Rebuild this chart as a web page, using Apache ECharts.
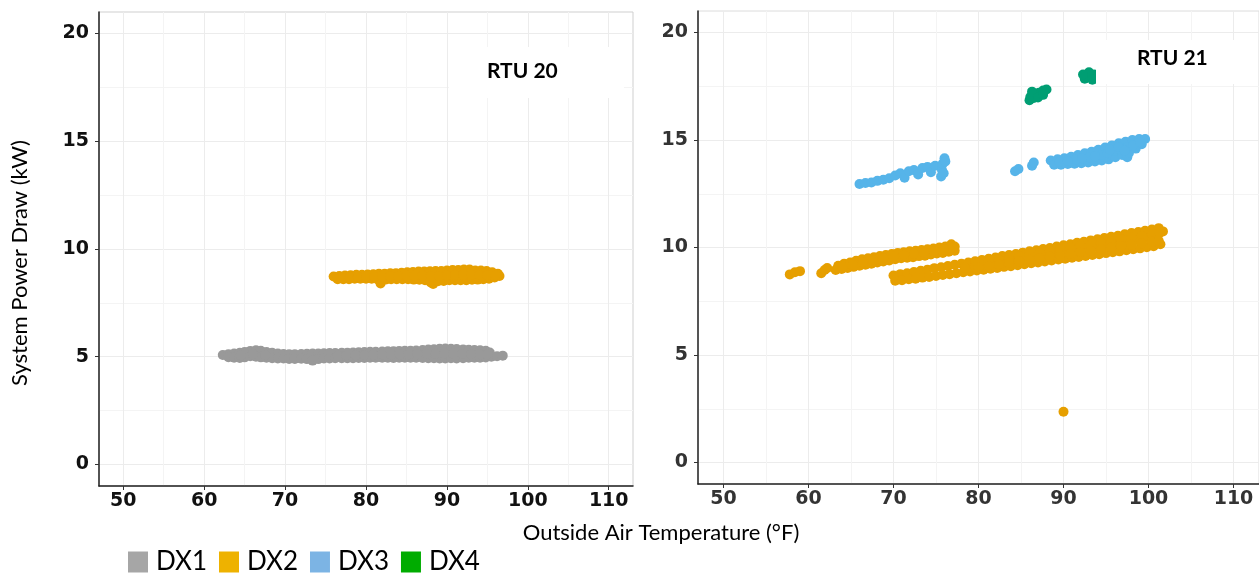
<!DOCTYPE html>
<html>
<head>
<meta charset="utf-8">
<script src="https://cdn.jsdelivr.net/npm/echarts@6/dist/echarts.min.js"></script>
<style>
  html, body { margin: 0; padding: 0; background: #fff; }
  #chart { width: 1259px; height: 576px; }
</style>
</head>
<body>
<div id="chart"></div>
<script>
// axis ticks
const xTicks = [50, 60, 70, 80, 90, 100, 110];
const xMinor = [55, 65, 75, 85, 95, 105];
const yTicks = [0, 5, 10, 15, 20];
const yMinor = [2.5, 7.5, 12.5, 17.5];
const seriesNames = ['DX1', 'DX2', 'DX3', 'DX4'];

// RTU 20 : outside air temp (F), power (kW)
const rtu20Dx1 = [
  [62.3,5.08],[63.0,5.12],[63.7,5.15],[64.4,5.18],[65.0,5.22],[65.7,5.27],[66.4,5.30],[67.0,5.28],[67.7,5.22],[68.4,5.18],
  [69.1,5.15],[69.8,5.13],[70.5,5.12],[71.2,5.12],[72.0,5.13],[72.7,5.14],[73.4,5.15],[74.1,5.15],[74.8,5.16],[75.5,5.17],
  [76.2,5.17],[77.0,5.18],[77.7,5.19],[78.4,5.20],[79.1,5.21],[79.8,5.22],[80.5,5.23],[81.2,5.23],[82.0,5.24],[82.7,5.25],
  [83.4,5.26],[84.1,5.27],[84.8,5.28],[85.5,5.28],[86.2,5.29],[87.0,5.31],[87.7,5.33],[88.4,5.35],[89.1,5.37],[89.8,5.38],
  [90.5,5.37],[91.2,5.36],[92.0,5.34],[92.7,5.32],[93.4,5.31],[94.1,5.30],[94.8,5.28],[95.3,5.20],
  [63.0,4.98],[63.7,4.95],[64.4,4.94],[65.0,4.97],[65.7,5.02],[66.4,5.00],[67.0,4.97],[67.7,4.95],[68.4,4.93],[69.1,4.92],
  [69.8,4.92],[70.5,4.90],[71.2,4.90],[72.0,4.91],[72.7,4.89],[73.4,4.82],[74.1,4.89],[74.8,4.92],[75.5,4.92],[76.2,4.93],
  [77.0,4.93],[77.7,4.93],[78.4,4.93],[79.1,4.94],[79.8,4.94],[80.5,4.95],[81.2,4.95],[82.0,4.95],[82.7,4.95],[83.4,4.94],
  [84.1,4.95],[84.8,4.95],[85.5,4.95],[86.2,4.95],[87.0,4.94],[87.7,4.93],[88.4,4.93],[89.1,4.92],[89.8,4.92],[90.5,4.93],
  [91.2,4.92],[92.0,4.93],[92.7,4.95],[93.4,4.95],[94.1,4.95],[94.8,4.96],[95.5,5.00],[96.2,5.02],[96.9,5.05],
  [64.5,5.07],[66.0,5.12],[67.5,5.08],[76.5,5.05],[77.6,5.06],[78.7,5.07],[79.8,5.08],[80.9,5.09],[82.0,5.10],[83.1,5.10],
  [84.2,5.11],[85.3,5.11],[86.4,5.12],[87.5,5.13],[88.6,5.14],[89.7,5.15],[90.8,5.14],[91.9,5.13],[93.0,5.13],[94.1,5.12],
  [95.0,5.10]
];
const rtu20Dx2 = [
  [76.0,8.72],[76.7,8.75],[77.4,8.77],[78.1,8.78],[78.8,8.80],[79.5,8.80],[80.2,8.82],[80.9,8.83],[81.6,8.85],[82.3,8.85],
  [83.0,8.87],[83.7,8.88],[84.4,8.90],[85.1,8.92],[85.8,8.93],[86.5,8.95],[87.2,8.95],[87.9,8.97],[88.6,8.98],[89.3,8.98],
  [90.0,9.00],[90.7,9.02],[91.4,9.03],[92.1,9.05],[92.8,9.05],[93.5,9.00],[94.2,9.00],[94.9,8.98],[95.6,8.92],[96.3,8.85],
  [76.5,8.60],[77.2,8.60],[77.9,8.60],[78.6,8.62],[79.3,8.62],[80.0,8.62],[80.7,8.62],[81.4,8.60],[81.8,8.40],[82.4,8.58],
  [83.1,8.60],[83.8,8.60],[84.5,8.60],[85.2,8.60],[85.9,8.58],[86.6,8.57],[87.3,8.55],[88.0,8.45],[88.3,8.38],[88.9,8.50],
  [89.6,8.52],[90.3,8.55],[91.0,8.55],[91.7,8.55],[92.4,8.55],[93.1,8.57],[93.8,8.58],[94.5,8.60],[95.2,8.62],[95.9,8.68],
  [96.5,8.75],
  [77.0,8.68],[78.0,8.69],[79.0,8.71],[80.0,8.72],[81.0,8.73],[82.0,8.73],[83.0,8.74],[84.0,8.75],[85.0,8.76],[86.0,8.76],
  [87.0,8.76],[88.0,8.74],[89.0,8.75],[90.0,8.77],[91.0,8.79],[92.0,8.80],[93.0,8.80],[94.0,8.79],[95.0,8.78],[96.0,8.77]
];

// RTU 21
const rtu21Dx2 = [
  [57.8,8.75],[58.4,8.85],[59.0,8.90],[61.5,8.80],[61.9,8.95],[62.2,9.05],
  [63.5,9.15],[64.2,9.25],[64.9,9.30],[65.6,9.38],[66.3,9.45],[67.0,9.50],[67.7,9.55],[68.4,9.60],[69.1,9.65],[69.8,9.70],
  [70.5,9.75],[71.2,9.78],[71.9,9.82],[72.6,9.85],[73.3,9.88],[74.0,9.92],[74.7,9.95],[75.4,10.00],[76.1,10.05],[76.8,10.15],
  [77.2,10.05],
  [63.2,8.95],[63.9,9.00],[64.6,9.05],[65.3,9.10],[66.0,9.15],[66.7,9.20],[67.4,9.25],[68.1,9.30],[68.8,9.35],[69.5,9.40],
  [70.2,9.45],[70.9,9.50],[71.6,9.52],[72.3,9.55],[73.0,9.60],[73.7,9.62],[74.4,9.68],[75.1,9.72],[75.8,9.75],[76.5,9.80],
  [77.2,9.85],
  [64.0,9.10],[65.2,9.20],[66.4,9.30],[67.6,9.40],[68.8,9.50],[70.0,9.58],[71.2,9.65],[72.4,9.70],[73.6,9.76],[74.8,9.83],
  [76.0,9.90],[77.0,9.98],
  [70.0,8.70],[70.8,8.76],[71.6,8.80],[72.4,8.86],[73.2,8.92],[74.0,8.97],[74.8,9.04],[75.6,9.08],[76.4,9.14],[77.2,9.20],
  [78.0,9.25],[78.8,9.30],[79.6,9.36],[80.4,9.42],[81.2,9.48],[82.0,9.53],[82.8,9.60],[83.6,9.65],[84.4,9.70],[85.2,9.76],
  [86.0,9.82],[86.8,9.87],[87.6,9.93],[88.4,9.98],[89.2,10.05],[90.0,10.10],[90.8,10.15],[91.6,10.22],[92.4,10.27],[93.2,10.33],
  [94.0,10.38],[94.8,10.44],[95.6,10.50],[96.4,10.55],[97.2,10.62],[98.0,10.67],[98.8,10.72],[99.6,10.78],[100.4,10.84],[101.2,10.90],
  [101.7,10.75],
  [70.2,8.45],[71.0,8.48],[71.8,8.52],[72.6,8.55],[73.4,8.60],[74.2,8.63],[75.0,8.68],[75.8,8.72],[76.6,8.76],[77.4,8.80],
  [78.2,8.85],[79.0,8.88],[79.8,8.93],[80.6,8.97],[81.4,9.01],[82.2,9.05],[83.0,9.10],[83.8,9.13],[84.6,9.18],[85.4,9.22],
  [86.2,9.27],[87.0,9.30],[87.8,9.35],[88.6,9.40],[89.4,9.44],[90.2,9.48],[91.0,9.52],[91.8,9.56],[92.6,9.61],[93.4,9.65],
  [94.2,9.69],[95.0,9.74],[95.8,9.78],[96.6,9.82],[97.4,9.87],[98.2,9.92],[99.0,9.96],[99.8,10.01],[100.6,10.06],[101.4,10.15],
  [78.4,9.05],[79.6,9.13],[80.8,9.20],[82.0,9.28],[83.2,9.36],[84.4,9.44],[85.6,9.50],[86.8,9.58],[88.0,9.66],[89.2,9.74],
  [90.4,9.82],[91.6,9.90],[92.8,9.97],[94.0,10.04],[95.2,10.10],[96.4,10.18],[97.6,10.26],[98.8,10.33],[100.0,10.42],[101.0,10.50],
  [80.0,9.27],[81.2,9.35],[82.4,9.43],[83.6,9.51],[84.8,9.59],[86.0,9.67],[87.2,9.75],[88.4,9.83],[89.6,9.91],[90.8,9.99],
  [92.0,10.07],[93.2,10.14],[94.4,10.22],[95.6,10.30],[96.8,10.38],[98.0,10.46],[99.2,10.54],[100.4,10.62],[101.3,10.68],
  [80.0,9.07],[81.2,9.14],[82.4,9.21],[83.6,9.29],[84.8,9.36],[86.0,9.43],[87.2,9.50],[88.4,9.57],[89.6,9.64],[90.8,9.71],
  [92.0,9.78],[93.2,9.85],[94.4,9.92],[95.6,9.99],[96.8,10.06],[98.0,10.13],[99.2,10.20],[100.4,10.27],[101.2,10.31],
  [90.0,2.36]
];
const rtu21Dx3 = [
  [66.0,12.95],[66.7,13.00],[67.4,13.02],[68.1,13.10],[68.8,13.15],[69.5,13.22],[70.2,13.35],[70.8,13.45],[71.3,13.25],[71.8,13.55],
  [72.4,13.60],[72.9,13.40],[73.4,13.70],[74.0,13.75],[74.4,13.50],[74.9,13.80],[75.6,13.30],[75.7,13.60],[75.8,13.90],[76.0,14.15],
  [75.9,13.45],[76.1,14.00],
  [84.3,13.55],[84.7,13.65],[86.3,13.80],[86.5,13.95],
  [88.5,14.05],[89.3,14.10],[90.1,14.15],[90.9,14.22],[91.7,14.30],[92.5,14.38],[93.3,14.45],[94.1,14.55],[94.9,14.65],[95.7,14.75],
  [96.5,14.85],[97.3,14.92],[98.1,15.00],[98.9,15.05],[99.6,15.05],
  [88.9,13.85],[89.7,13.85],[90.5,13.88],[91.3,13.90],[92.1,13.92],[92.9,13.95],[93.7,14.00],[94.5,14.05],[95.3,14.10],[96.1,14.20],
  [96.9,14.30],[97.5,14.20],[97.7,14.40],[98.5,14.60],[99.2,14.80],
  [91.5,14.10],[93.0,14.20],[94.5,14.30],[96.0,14.50],[97.5,14.65],
  [89.5,13.98],[90.5,14.02],[92.2,14.15],[93.7,14.25],[95.2,14.38],[96.7,14.55],[98.2,14.75],[99.0,14.90],
  [95.5,14.55],[96.5,14.68],[97.2,14.50]
];
const rtu21Dx4 = [
  [86.1,17.00],[86.6,17.10],[87.1,17.20],[87.6,17.30],[88.0,17.35],[86.5,16.95],[87.3,17.15],
  [86.0,16.85],[86.3,17.25],[87.0,16.98],[87.6,17.10],
  [92.6,18.00],[93.2,17.95],[93.6,18.05],[93.9,17.90],[94.2,18.00],
  [92.5,17.85],[93.0,18.15],[92.3,18.05],[93.4,17.80]
];

const dotColors = ['#999999', '#E69F00', '#56B4E9', '#009E73'];
const legendColors = ['#a6a6a6', '#eeb200', '#7cb4e4', '#00ac00'];

const chart = echarts.init(document.getElementById('chart'));

function mainX(g, color) {
  return {
    type: 'value', gridIndex: g, min: 47, max: 113,
    axisLine: { show: true, onZero: false, lineStyle: { color: '#222', width: 1.5 } },
    axisTick: { show: true, length: 4, customValues: xTicks, lineStyle: { color: '#333' } },
    axisLabel: { customValues: xTicks, color: color, fontFamily: 'DejaVu Sans', fontWeight: 'bold', fontSize: 19, margin: 6 },
    splitLine: { show: true, lineStyle: { color: '#ececec', width: 1 } }
  };
}
function mainY(g, color) {
  return {
    type: 'value', gridIndex: g, min: -1, max: 21,
    axisLine: { show: true, onZero: false, lineStyle: { color: '#222', width: 1.5 } },
    axisTick: { show: true, length: 4, customValues: yTicks, lineStyle: { color: '#333' } },
    axisLabel: { customValues: yTicks, color: color, fontFamily: 'DejaVu Sans', fontWeight: 'bold', fontSize: 19, margin: 10 },
    splitLine: { show: true, lineStyle: { color: '#ececec', width: 1 } }
  };
}
function minorX(g) {
  return {
    type: 'value', gridIndex: g, min: 47, max: 113, position: 'top',
    axisLine: { show: false }, axisLabel: { show: false },
    axisTick: { show: false, customValues: xMinor },
    splitLine: { show: true, lineStyle: { color: '#f4f4f4', width: 1 } }
  };
}
function minorY(g) {
  return {
    type: 'value', gridIndex: g, min: -1, max: 21, position: 'right',
    axisLine: { show: false }, axisLabel: { show: false },
    axisTick: { show: false, customValues: yMinor },
    splitLine: { show: true, lineStyle: { color: '#f4f4f4', width: 1 } }
  };
}

function dots(name, axis, data) {
  return {
    name: name, type: 'scatter', xAxisIndex: axis, yAxisIndex: axis,
    data: data, symbol: 'circle', symbolSize: 10,
    itemStyle: { color: dotColors[seriesNames.indexOf(name)], opacity: 1, borderWidth: 0 },
    emphasis: { disabled: true }
  };
}

chart.setOption({
  animation: false,
  backgroundColor: '#fff',
  grid: [
    { left: 99, top: 12, width: 534, height: 474, show: true, borderColor: '#cfcfcf', borderWidth: 1, backgroundColor: '#fff' },
    { left: 698, top: 11, width: 564, height: 473, show: true, borderColor: '#dcdcdc', borderWidth: 1, backgroundColor: '#fff' }
  ],
  xAxis: [mainX(0, '#111'), minorX(0), mainX(1, '#333'), minorX(1)],
  yAxis: [mainY(0, '#111'), minorY(0), mainY(1, '#333'), minorY(1)],
  legend: {
    left: 128, top: 549, padding: 0, itemWidth: 20, itemHeight: 21, itemGap: 12, icon: 'rect',
    selectedMode: false,
    textStyle: { fontFamily: 'Lato', fontSize: 26, color: '#000', padding: [0, 0, 0, 3] },
    data: seriesNames.map((n, i) => ({ name: n, itemStyle: { color: legendColors[i] } }))
  },
  graphic: [
    { type: 'rect', left: 449, top: 47, z: 50, shape: { width: 175, height: 51 }, style: { fill: '#fff' } },
    { type: 'text', left: 487, top: 61, z: 51, style: { text: 'RTU 20', font: 'bold 21px Lato', fill: '#000' } },
    { type: 'rect', left: 1096, top: 40, z: 50, shape: { width: 160, height: 44 }, style: { fill: '#fff' } },
    { type: 'text', left: 1137, top: 48, z: 51, style: { text: 'RTU 21', font: 'bold 21px Lato', fill: '#000' } },
    { type: 'text', x: 20, y: 263, rotation: Math.PI / 2, z: 51,
      style: { text: 'System Power Draw (kW)', font: '22px Lato', fill: '#000', align: 'center', verticalAlign: 'middle' } },
    { type: 'text', x: 661, y: 533, z: 51,
      style: { text: 'Outside Air Temperature (°F)', font: '22px Lato', fill: '#000', align: 'center', verticalAlign: 'middle' } }
  ],
  series: [
    dots('DX1', 0, rtu20Dx1),
    dots('DX2', 0, rtu20Dx2),
    dots('DX2', 2, rtu21Dx2),
    dots('DX3', 2, rtu21Dx3),
    dots('DX4', 2, rtu21Dx4)
  ]
});
</script>
</body>
</html>
